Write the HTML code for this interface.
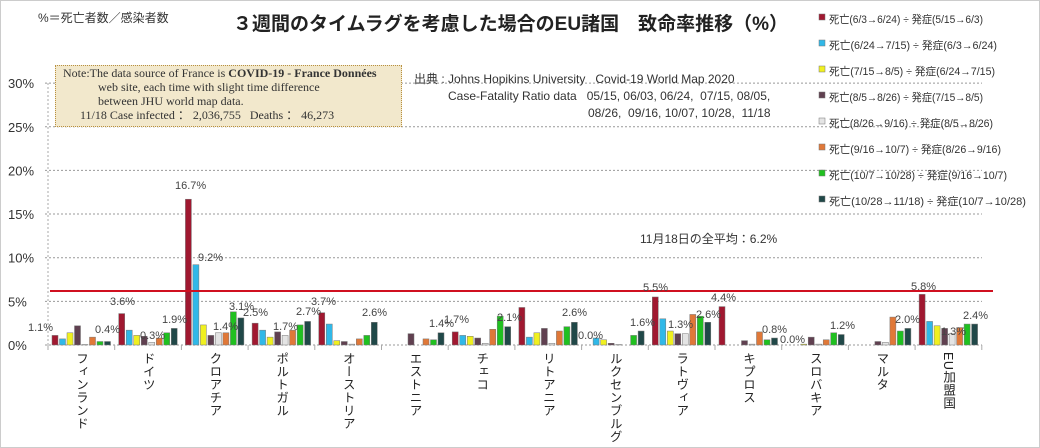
<!DOCTYPE html>
<html><head><meta charset="utf-8"><style>
html,body{margin:0;padding:0;background:#fff}
#c{position:relative;width:1040px;height:448px;overflow:hidden;font-family:"Liberation Sans","Noto Sans CJK JP",sans-serif;}
.t{position:absolute;white-space:nowrap;color:#333}
.cn{position:absolute;top:352px;writing-mode:vertical-rl;white-space:nowrap;font-size:12.5px;line-height:14px;color:#222;font-family:"Liberation Sans","Noto Sans CJK JP",sans-serif;letter-spacing:0.5px}
</style></head><body><div id="c">
<svg id="s" width="1040" height="448" style="position:absolute;left:0;top:0"></svg>
<div class="t" style="left:38px;top:9px;font-size:12px">%＝死亡者数／感染者数</div>
<div class="t" style="left:233px;top:9px;font-size:19px;font-weight:bold;color:#222">３週間のタイムラグを考慮した場合のEU諸国　致命率推移（%）</div>
<div style="position:absolute;left:55px;top:65px;width:345px;height:60px;background:#f2e8cc;border:1px dotted #b89040;font-family:'Liberation Serif',serif;font-size:12px;color:#333;line-height:14px">
<div style="padding-left:7px">Note:The data source of France is <b>COVID-19 - France Données</b></div>
<div style="padding-left:42px">web site, each time with slight time difference</div>
<div style="padding-left:42px">between JHU world map data.</div>
<div style="padding-left:24px">11/18 Case infected ： 2,036,755 &nbsp; Deaths ： 46,273</div>
</div>
<div class="t" style="left:414px;top:71px;font-size:12px;line-height:17px">出典 : Johns Hopikins University &nbsp; Covid-19 World Map 2020<br>
<span style="padding-left:34px">Case-Fatality Ratio data &nbsp; 05/15, 06/03, 06/24, &nbsp;07/15, 08/05,</span><br>
<span style="padding-left:174px">08/26, &nbsp;09/16, 10/07, 10/28, &nbsp;11/18</span></div>
<div class="t" style="left:640px;top:230px;font-size:12px">11月18日の全平均：6.2%</div>
<div id="lab"></div>
</div>
<script>
var s=document.getElementById('s'),h='';
h+='<rect x="0.5" y="0.5" width="1039" height="447" fill="none" stroke="#999" stroke-dasharray="1,1"/>';
var y0=345,k=8.73;
for(var i=0;i<=6;i++){var y=y0-i*5*k;h+='<line x1="45" x2="982" y1="'+y+'" y2="'+y+'" stroke="#999" stroke-dasharray="2,2"/>';
h+='<text x="8" y="'+(y+5)+'" font-size="13" fill="#333" font-family="Liberation Sans">'+(i*5)+'%</text>';}
h+='<line x1="48" x2="48" y1="83" y2="345" stroke="#aaa" stroke-dasharray="2,2"/>';
for(var i=0;i<=14;i++){var x=48+i*66.7;h+='<line x1="'+x+'" x2="'+x+'" y1="345" y2="350" stroke="#aaa"/>';}
var col=['#a01830','#30b8e8','#f0f020','#604050','#e4e4e4','#e07838','#20c020','#204848'];
var d=[[1.1,0.7,1.4,2.2,0.05,0.9,0.4,0.4],[3.6,1.7,1.1,1.0,0.3,0.8,1.4,1.9],[16.7,9.2,2.3,1.1,1.4,1.4,3.8,3.1],[2.5,1.7,0.9,1.5,1.1,1.7,2.3,2.7],[3.7,2.4,0.5,0.4,0.1,0.7,1.1,2.6],[0,0,0,1.3,0,0.7,0.6,1.4],[1.5,1.1,1.0,0.8,0.2,1.8,3.3,2.1],[4.3,0.9,1.4,1.9,0.2,1.6,2.1,2.6],[0,0.8,0.6,0.2,0.05,0,1.1,1.6],[5.5,3.0,1.6,1.3,1.3,3.5,3.3,2.6],[4.4,0,0,0.5,0.1,1.5,0.6,0.8],[0,0,0.1,0.9,0.1,0.6,1.4,1.2],[0,0,0,0.4,0.3,3.2,1.6,1.9],[5.8,2.7,2.2,1.9,1.3,2.0,2.4,2.4]];
for(var g=0;g<14;g++)for(var b=0;b<8;b++){var v=d[g][b];if(v<=0)continue;var x=48+g*66.7+4+b*7.5,hh=v*k;
h+='<rect x="'+x+'" y="'+(y0-hh)+'" width="6" height="'+hh+'" fill="'+col[b]+'" stroke="#777" stroke-width="0.5"/>';}
h+='<line x1="50" x2="993" y1="291" y2="291" stroke="#d01020" stroke-width="2"/>';
var L=[["1.1%",28,331],["0.4%",95,333],["3.6%",110,305],["0.3%",140,339],["1.9%",162,323],["16.7%",175,189],["9.2%",198,261],["1.4%",213,330],["3.1%",229,310],["2.5%",243,316],["1.7%",273,330],["2.7%",296,315],["3.7%",311,305],["2.6%",362,316],["1.4%",429,327],["1.7%",444,323],["2.1%",497,321],["2.6%",562,316],["0.0%",578,339],["1.6%",630,326],["5.5%",643,291],["1.3%",668,328],["2.6%",696,318],["4.4%",711,301],["0.8%",762,333],["0.0%",780,343],["1.2%",830,329],["2.0%",895,323],["5.8%",911,290],["1.3%",941,335],["2.4%",963,319]];
L.forEach(function(l){h+='<text x="'+l[1]+'" y="'+l[2]+'" font-size="11" fill="#444" font-family="Liberation Sans">'+l[0]+'</text>';});
var lg=['死亡(6/3→6/24) ÷ 発症(5/15→6/3)','死亡(6/24→7/15) ÷ 発症(6/3→6/24)','死亡(7/15→8/5) ÷ 発症(6/24→7/15)','死亡(8/5→8/26) ÷ 発症(7/15→8/5)','死亡(8/26→9/16) ÷ 発症(8/5→8/26)','死亡(9/16→10/7) ÷ 発症(8/26→9/16)','死亡(10/7→10/28) ÷ 発症(9/16→10/7)','死亡(10/28→11/18) ÷ 発症(10/7→10/28)'];
lg.forEach(function(t,i){var y=18+i*26;h+='<rect x="819" y="'+(y-4)+'" width="6" height="6" fill="'+col[i]+'" stroke="#777" stroke-width="0.5"/>';
h+='<text x="829" y="'+(y+5)+'" font-size="11" textLength="'+(i==7?197:(i==6?178:(i==5?172:(i==1?168:(i==2?166:(i==4?164:(i==3?154:154)))))))+'" lengthAdjust="spacingAndGlyphs" fill="#333" font-family="Liberation Sans,Noto Sans CJK JP,sans-serif">'+t+'</text>';});
s.innerHTML=h;
var cn=['フィンランド','ドイツ','クロアチア','ポルトガル','オーストリア','エストニア','チェコ','リトアニア','ルクセンブルグ','ラトヴィア','キプロス','スロバキア','マルタ','EU加盟国'],o='';
cn.forEach(function(n,i){o+='<div class="cn" style="left:'+(74+i*66.7)+'px">'+n+'</div>';});
document.getElementById('lab').innerHTML=o;
</script>
</body></html>
